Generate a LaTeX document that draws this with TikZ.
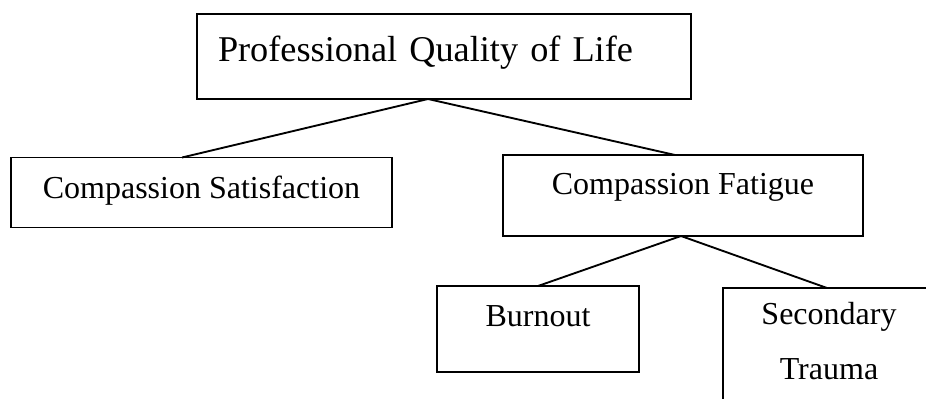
\documentclass[tikz,border=0pt]{standalone}
\usepackage{fontspec}
\setmainfont{Liberation Serif}
\usepackage{tikz}
\usetikzlibrary{calc}
\usetikzlibrary{positioning}

\begin{document}
\begin{tikzpicture}[node distance=102pt,
        block/.style={draw, rectangle, line width=1.4pt, inner sep=0pt, outer sep=0pt, font=\fontsize{24}{41.25}\selectfont},
        link/.style={line width=1.4pt}]
        % Canvas of the figure
        \useasboundingbox (0pt,0pt) rectangle (694.5pt,-299.25pt);
        % Root: Professional Quality of Life
        \node[block, font=\fontsize{27.2}{34}\selectfont, inner xsep=15.75pt, text width=339pt, align=left, text height=36pt, text depth=27.75pt] (proqol) at (333pt,-42.375pt) {Professional Quality of Life};
        % Compassion Satisfaction
        \node[block, minimum width=285.75pt, text height=30.75pt, text depth=21.75pt, below of=proqol, xshift=-181.875pt] (satisfaction) {Compassion Satisfaction};
        % Compassion Fatigue
        \node[block, minimum width=270pt, text height=30pt, text depth=30.75pt, below of=proqol, xshift=179.25pt, yshift=-2.25pt] (fatigue) {Compassion Fatigue};
        % Burnout
        \node[block, minimum width=151.5pt, text height=30.75pt, text depth=33.75pt, below of=fatigue, xshift=-108.75pt, yshift=1.875pt] (burnout) {Burnout};
        % Secondary Trauma
        \node[block, text width=159pt, align=center, text height=27.75pt, text depth=67.5pt, below of=fatigue, xshift=109.5pt, yshift=-15pt] (trauma) {Secondary\\Trauma};
        % Fork points
        \coordinate (proqol_fork) at ([xshift=-12pt]proqol.south);
        \coordinate (fatigue_fork) at ([xshift=-1.5pt]fatigue.south);
        % Lines from the root
        \draw[link] (proqol_fork) -- ([xshift=-14.6pt]satisfaction.north);
        \draw[link] (proqol_fork) -- ([xshift=-6pt]fatigue.north);
        % Lines from Compassion Fatigue
        \draw[link] (fatigue_fork) -- (burnout.north);
        \draw[link] (fatigue_fork) -- ([xshift=-1.5pt]trauma.north);
\end{tikzpicture}
\end{document}
